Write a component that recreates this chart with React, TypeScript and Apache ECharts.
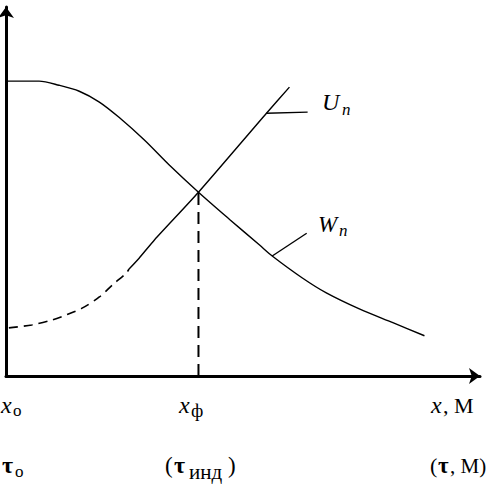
import React, { useEffect, useRef } from "react";
import * as echarts from "echarts";

// W_n curve (x, y) in chart units
const wX = [0, 6.9, 11.1, 15.3, 19.5, 23.6, 28.9, 34.1, 40.2, 46.7, 52.9, 55.6, 61.9, 66.9, 73.8, 80.8, 87.4];
const wY = [79.1, 79.1, 78.0, 76.4, 73.5, 69.4, 63.3, 56.6, 49.3, 42.0, 35.2, 32.2, 26.3, 22.3, 18.0, 14.3, 10.8];
// U_n curve, dashed part
const uDashX = [0.6, 5.4, 9.6, 12.6, 15.9, 19.5, 22.2, 25.1, 25.7];
const uDashY = [12.9, 13.7, 15.0, 16.4, 18.2, 21.2, 24.4, 27.6, 28.7];
// U_n curve, solid part
const uSolidX = [25.7, 27.8, 31.0, 40.2, 54.4, 59.2];
const uSolidY = [28.7, 31.6, 36.5, 49.3, 70.5, 77.5];
// front position
const xFront = 40.2;
const yFront = 49.3;
// leader lines for labels
const uLeader = [[54.4, 70.5], [63.0, 70.8]];
const wLeader = [[55.6, 32.2], [62.8, 38.3]];

const FAMILY = "Liberation Serif";

function zip(xs: number[], ys: number[]) {
  return xs.map((x, i) => [x, ys[i]]);
}

function txt(text: string, x: number, y: number, fontSize: number, italic = false, bold = false) {
  return {
    type: "text",
    x,
    y,
    silent: true,
    style: {
      text,
      fontSize,
      fontFamily: FAMILY,
      fontStyle: italic ? "italic" : "normal",
      fontWeight: bold ? "bold" : "normal",
      fill: "#000",
      align: "left",
      verticalAlign: "middle",
    },
  };
}

export default function App() {
  const ref = useRef<HTMLDivElement>(null);
  useEffect(() => {
    if (!ref.current) return;
    const chart = echarts.init(ref.current, undefined, { renderer: "svg" });
    const black = "#000";
    const thin = { color: black, width: 1.4 };
    chart.setOption({
      animation: false,
      backgroundColor: "#fff",
      grid: { left: 6, right: 9, top: 7, bottom: 108 },
      xAxis: {
        type: "value",
        min: 0,
        max: 99,
        axisLine: {
          show: true,
          onZero: false,
          symbol: ["none", "arrow"],
          symbolSize: [12, 11],
          lineStyle: { color: black, width: 3 },
        },
        axisTick: { show: false },
        axisLabel: { show: false },
        splitLine: { show: false },
      },
      yAxis: {
        type: "value",
        min: 0,
        max: 99,
        axisLine: {
          show: true,
          onZero: false,
          symbol: ["none", "arrow"],
          symbolSize: [12, 11],
          lineStyle: { color: black, width: 3 },
        },
        axisTick: { show: false },
        axisLabel: { show: false },
        splitLine: { show: false },
      },
      series: [
        {
          name: "W",
          type: "line",
          data: zip(wX, wY),
          smooth: 0.3,
          symbol: "none",
          lineStyle: thin,
        },
        {
          name: "U dashed",
          type: "line",
          data: zip(uDashX, uDashY),
          smooth: 0.3,
          symbol: "none",
          lineStyle: { color: black, width: 1.6, type: [9, 6] },
        },
        {
          name: "U",
          type: "line",
          data: zip(uSolidX, uSolidY),
          smooth: 0.2,
          symbol: "none",
          lineStyle: thin,
        },
        {
          name: "front",
          type: "line",
          data: [[xFront, 0], [xFront, yFront]],
          symbol: "none",
          lineStyle: { color: black, width: 2, type: [12, 7] },
        },
        {
          name: "uLeader",
          type: "line",
          data: uLeader,
          symbol: "none",
          lineStyle: thin,
        },
        {
          name: "wLeader",
          type: "line",
          data: wLeader,
          symbol: "none",
          lineStyle: thin,
        },
      ],
      graphic: [
        txt("U", 322, 102, 24, true),
        txt("n", 342, 109.6, 17, true),
        txt("W", 318, 224, 23, true),
        txt("n", 339, 230.6, 17, true),
        txt("x", 1, 405, 24, true),
        txt("о", 13, 410.6, 17),
        txt("x", 179, 405, 24, true),
        txt("ф", 191, 410.6, 19),
        txt("x", 431, 405, 24, true),
        txt(", М", 443, 405.5, 22),
        txt("τ", 2, 465, 24, false, true),
        txt("о", 15, 471.6, 17),
        txt("(", 165, 465.5, 23),
        txt("τ", 174, 465, 24, false, true),
        txt("инд", 189, 471.6, 21),
        txt(")", 228, 465.5, 23),
        txt("(", 430, 465.5, 22),
        txt("τ", 438, 465, 23, false, true),
        txt(", М)", 450, 465.5, 21),
      ],
    });
    return () => chart.dispose();
  }, []);
  return (
    <div
      ref={ref}
      style={{ position: "absolute", left: 0, top: 0, width: 489, height: 484 }}
    />
  );
}
